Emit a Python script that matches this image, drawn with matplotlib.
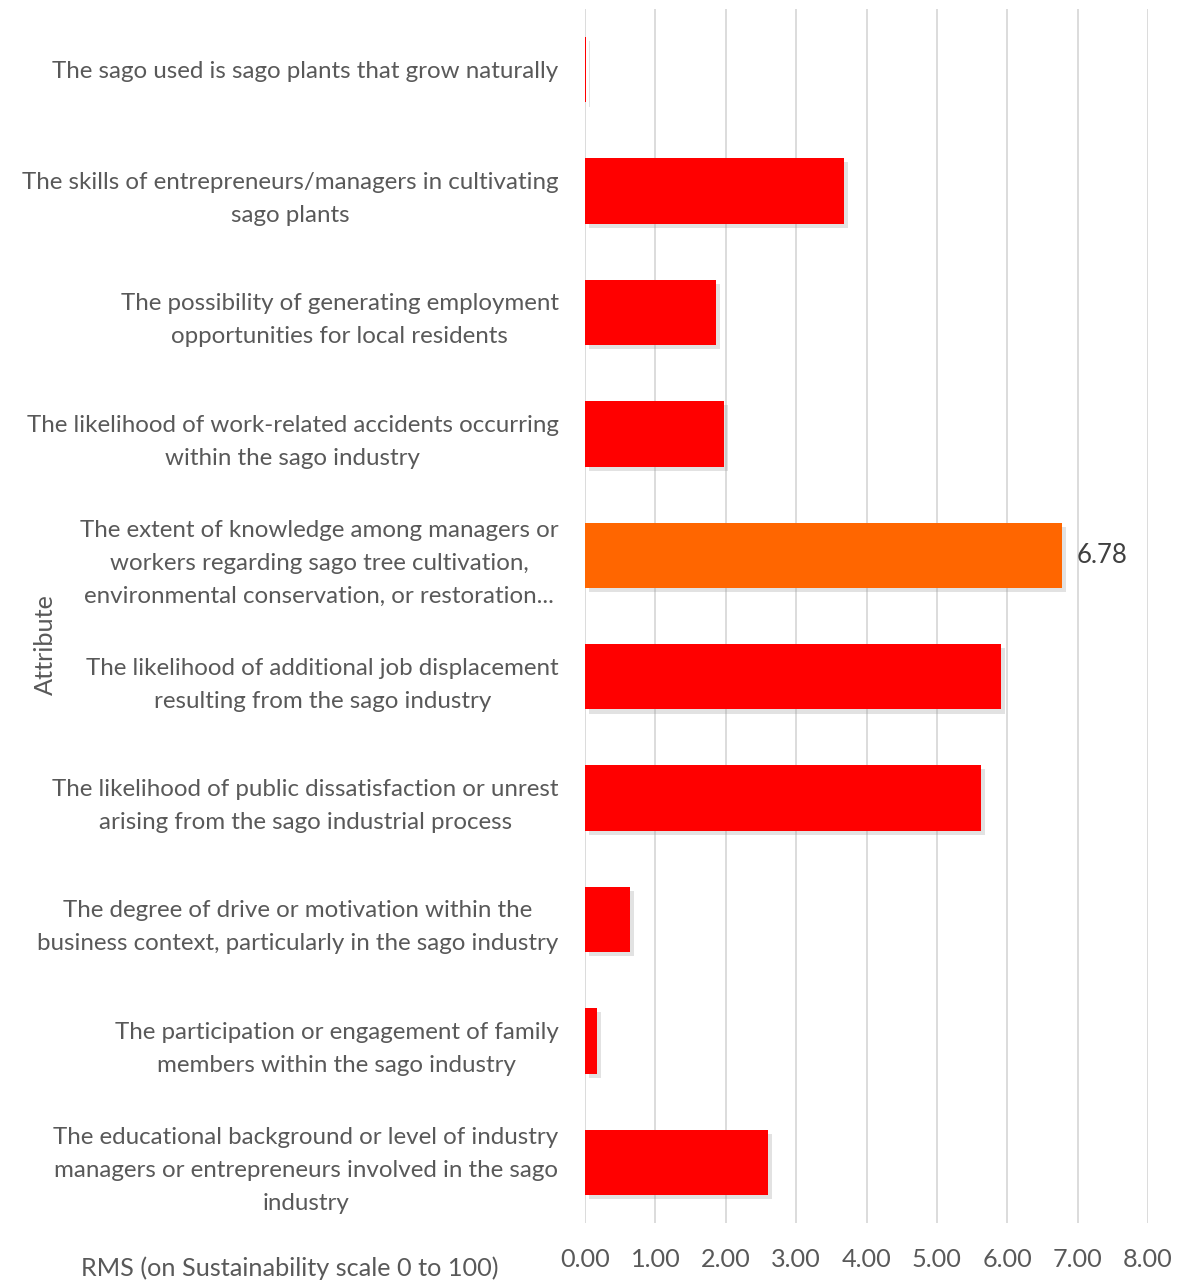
import matplotlib.pyplot as plt
import matplotlib.patheffects as pe
import matplotlib.transforms as mtransforms

attributes = [
    "The sago used is sago plants that grow naturally",
    "The skills of entrepreneurs/managers in cultivating\nsago plants",
    "The possibility of generating employment\nopportunities for local residents",
    "The likelihood of work-related accidents occurring\nwithin the sago industry",
    "The extent of knowledge among managers or\nworkers regarding sago tree cultivation,\nenvironmental conservation, or restoration...",
    "The likelihood of additional job displacement\nresulting from the sago industry",
    "The likelihood of public dissatisfaction or unrest\narising from the sago industrial process",
    "The degree of drive or motivation within the\nbusiness context, particularly in the sago industry",
    "The participation or engagement of family\nmembers within the sago industry",
    "The educational background or level of industry\nmanagers or entrepreneurs involved in the sago\nindustry",
]
rms_values = [0.01, 3.68, 1.86, 1.97, 6.78, 5.91, 5.62, 0.64, 0.17, 2.60]
highlight = 4
xticks = [0, 1, 2, 3, 4, 5, 6, 7, 8]

plt.rcParams['font.family'] = ['Lato', 'DejaVu Sans']
text_color = "#595959"
fsize = 17.4

fig = plt.figure(figsize=(11.8, 12.82), dpi=100)
ax = fig.add_axes([585 / 1180, 1 - 1223 / 1282, (1148 - 585) / 1180, (1223 - 9) / 1282])

ypos = list(range(len(attributes)))
colors = ["#FF6600" if i == highlight else "#FF0000" for i in ypos]
bars = ax.barh(ypos, rms_values, height=0.54, color=colors, linewidth=0, zorder=3)
for b in bars:
    b.set_path_effects([pe.SimplePatchShadow(offset=(3, -3), shadow_rgbFace="#A0A0A0", alpha=0.3), pe.Normal()])

ax.text(rms_values[highlight] + 0.2, highlight, f"{rms_values[highlight]:.2f}",
        va="center", ha="left", fontsize=18.5, color="#404040")

ax.set_xlim(0, 8)
ax.set_ylim(len(attributes) - 0.5, -0.5)
ax.set_xticks(xticks)
ax.set_xticklabels([f"{v:.2f}" for v in xticks], fontsize=18.2, color=text_color)
ax.set_yticks(ypos)
ax.set_yticklabels(attributes, fontsize=fsize, color=text_color, ha="right",
                   multialignment="center", linespacing=1.7)
# nudge the category labels up a little
shift = mtransforms.ScaledTranslation(0, 5 / 100, fig.dpi_scale_trans)
for lbl in ax.get_yticklabels():
    lbl.set_transform(lbl.get_transform() + shift)
ax.tick_params(axis="y", length=0, pad=19)
ax.tick_params(axis="x", length=0, pad=18)
ax.grid(axis="x", color="#D9D9D9", linewidth=1.3, zorder=0)
for s in ax.spines.values():
    s.set_visible(False)

fig.text(290 / 1180, 1 - 1268 / 1282, "RMS (on Sustainability scale 0 to 100)",
         ha="center", va="center", fontsize=18.2, color=text_color)
fig.text(45 / 1180, 1 - 645 / 1282, "Attribute", rotation=90,
         ha="center", va="center", fontsize=18.2, color=text_color)

fig.savefig("out.png", dpi=100)
